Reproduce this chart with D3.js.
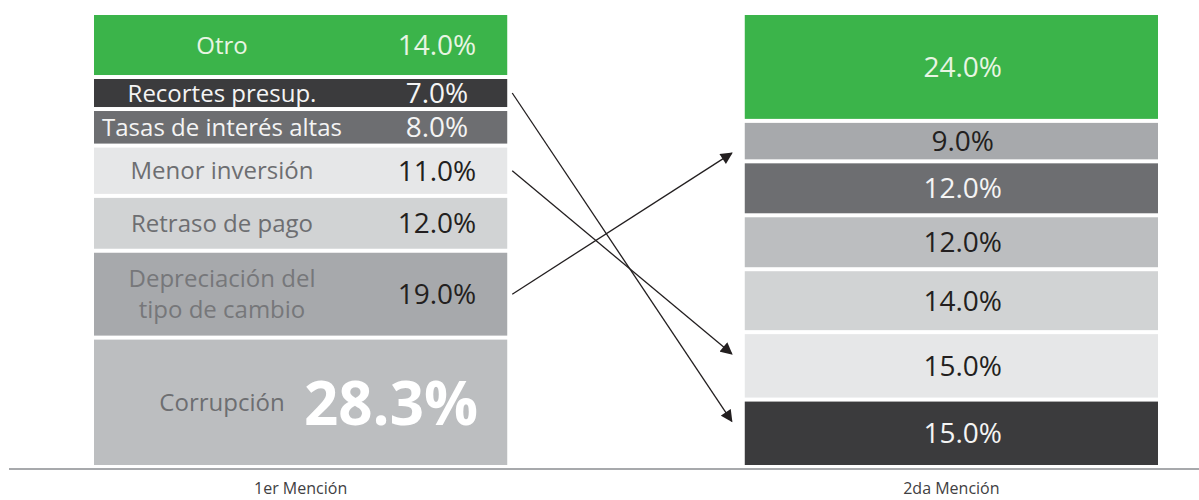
<!DOCTYPE html>
<html>
<head>
<meta charset="utf-8">
<script src="https://cdn.jsdelivr.net/npm/d3@7"></script>
<style>
  body { margin: 0; background: #fff; }
  text { font-family: "Open Sans", sans-serif; }
</style>
</head>
<body>
<div id="chart"></div>
<script>
// categories in the order of the first mention
var cats1 = ["Otro", "Recortes presup.", "Tasas de interés altas", "Menor inversión",
             "Retraso de pago", "Depreciación del|tipo de cambio", "Corrupción"];
var vals1 = [14.0, 7.0, 8.0, 11.0, 12.0, 19.0, 28.3];

// second mention, top to bottom
var cats2 = ["Otro", "Depreciación del|tipo de cambio", "Tasas de interés altas", "Corrupción",
             "Retraso de pago", "Menor inversión", "Recortes presup."];
var vals2 = [24.0, 9.0, 12.0, 12.0, 14.0, 15.0, 15.0];

// categories whose position changes get an arrow
var moved = ["Recortes presup.", "Menor inversión", "Depreciación del|tipo de cambio"];

var mentions = ["1er Mención", "2da Mención"];

var fills     = ["#3bb44a", "#3b3b3d", "#6d6e71", "#e6e7e8", "#d1d3d4", "#a7a9ac", "#bcbec0"];
var labelCols = ["#e8f5e3", "#f4f4f4", "#f4f4f4", "#6d6e71", "#6d6e71", "#76777a", "#6d6e71"];
var valueCols = ["#e8f5e3", "#f4f4f4", "#f4f4f4", "#231f20", "#231f20", "#231f20", "#231f20"];

var width = 1199, height = 500;

var svg = d3.select("#chart").append("svg")
    .attr("width", width)
    .attr("height", height);

var defs = svg.append("defs");
defs.append("marker")
    .attr("id", "head")
    .attr("viewBox", "0 0 10 10")
    .attr("refX", 9)
    .attr("refY", 5)
    .attr("markerUnits", "userSpaceOnUse")
    .attr("markerWidth", 13)
    .attr("markerHeight", 12)
    .attr("orient", "auto")
  .append("path")
    .attr("d", "M0,0 L10,5 L0,10 Z")
    .style("fill", "#231f20");

var x = d3.scaleBand().domain(mentions).range([94, 1158]).paddingInner(0.365);

function stack(cats, vals) {
    var y = d3.scaleLinear().domain([0, d3.sum(vals)]).range([13, 467]);
    var ends = d3.cumsum(vals);
    return cats.map(function(c, i) {
        var k = cats1.indexOf(c);
        return { cat: c, value: vals[i], y0: y(ends[i] - vals[i]), y1: y(ends[i]), k: k };
    });
}

var left = stack(cats1, vals1);
var right = stack(cats2, vals2);
var bigValue = d3.max(vals1);

function drawStack(rows, mention, showLabels, valueX) {
    var x0 = x(mention), bw = x.bandwidth();
    var g = svg.append("g");

    g.selectAll("rect")
        .data(rows)
        .enter().append("rect")
        .attr("x", x0)
        .attr("width", bw)
        .attr("y", function(d) { return d.y0 + 2; })
        .attr("height", function(d) { return d.y1 - d.y0 - 4; })
        .style("fill", function(d) { return fills[d.k]; });

    if (showLabels) {
        g.selectAll(".label")
            .data(rows)
            .enter().append("text")
            .attr("class", "label")
            .attr("text-anchor", "middle")
            .style("font-size", "24px")
            .style("fill", function(d) { return labelCols[d.k]; })
            .each(function(d) {
                var lines = d.cat.split("|");
                var cy = (d.y0 + d.y1) / 2;
                var t = d3.select(this);
                lines.forEach(function(l, j) {
                    t.append("tspan")
                        .attr("x", x0 + 128)
                        .attr("y", cy + (j - (lines.length - 1) / 2) * 31)
                        .attr("dy", "0.36em")
                        .text(l);
                });
            });
    }

    g.selectAll(".value")
        .data(rows)
        .enter().append("text")
        .attr("class", "value")
        .attr("text-anchor", function(d) { return showLabels && d.value == bigValue ? "end" : "middle"; })
        .attr("x", function(d) {
            if (showLabels && d.value == bigValue) return x0 + 384;
            return x0 + valueX;
        })
        .attr("y", function(d) { return (d.y0 + d.y1) / 2; })
        .attr("dy", function(d) { return showLabels && d.value == bigValue ? "0.38em" : "0.36em"; })
        .style("font-size", function(d) { return showLabels && d.value == bigValue ? "60px" : "28px"; })
        .style("font-weight", function(d) { return showLabels && d.value == bigValue ? "700" : "400"; })
        .style("fill", function(d) {
            if (showLabels && d.value == bigValue) return "#ffffff";
            return valueCols[d.k];
        })
        .text(function(d) { return d.value.toFixed(1) + "%"; });
}

drawStack(left, mentions[0], true, 343);
drawStack(right, mentions[1], false, 218);

// arrows between the two mentions
svg.append("g").selectAll("line")
    .data(moved)
    .enter().append("line")
    .each(function(c) {
        var a = left.find(function(d) { return d.cat == c; });
        var b = right.find(function(d) { return d.cat == c; });
        var ya = (a.y0 + a.y1) / 2, yb = (b.y0 + b.y1) / 2;
        var off = yb > ya ? -12 : 12;
        d3.select(this)
            .attr("x1", x(mentions[0]) + x.bandwidth() + 5)
            .attr("y1", ya)
            .attr("x2", x(mentions[1]) - 13)
            .attr("y2", yb + off);
    })
    .style("stroke", "#231f20")
    .style("stroke-width", 1.3)
    .attr("marker-end", "url(#head)");

// base line
svg.append("line")
    .attr("x1", 9).attr("x2", width)
    .attr("y1", 469).attr("y2", 469)
    .style("stroke", "#a7a9ac")
    .style("stroke-width", 2);

svg.selectAll(".mention")
    .data(mentions)
    .enter().append("text")
    .attr("class", "mention")
    .attr("text-anchor", "middle")
    .attr("x", function(d) { return x(d) + x.bandwidth() / 2; })
    .attr("y", 494)
    .style("font-size", "16px")
    .style("fill", "#414042")
    .text(function(d) { return d; });
</script>
</body>
</html>
